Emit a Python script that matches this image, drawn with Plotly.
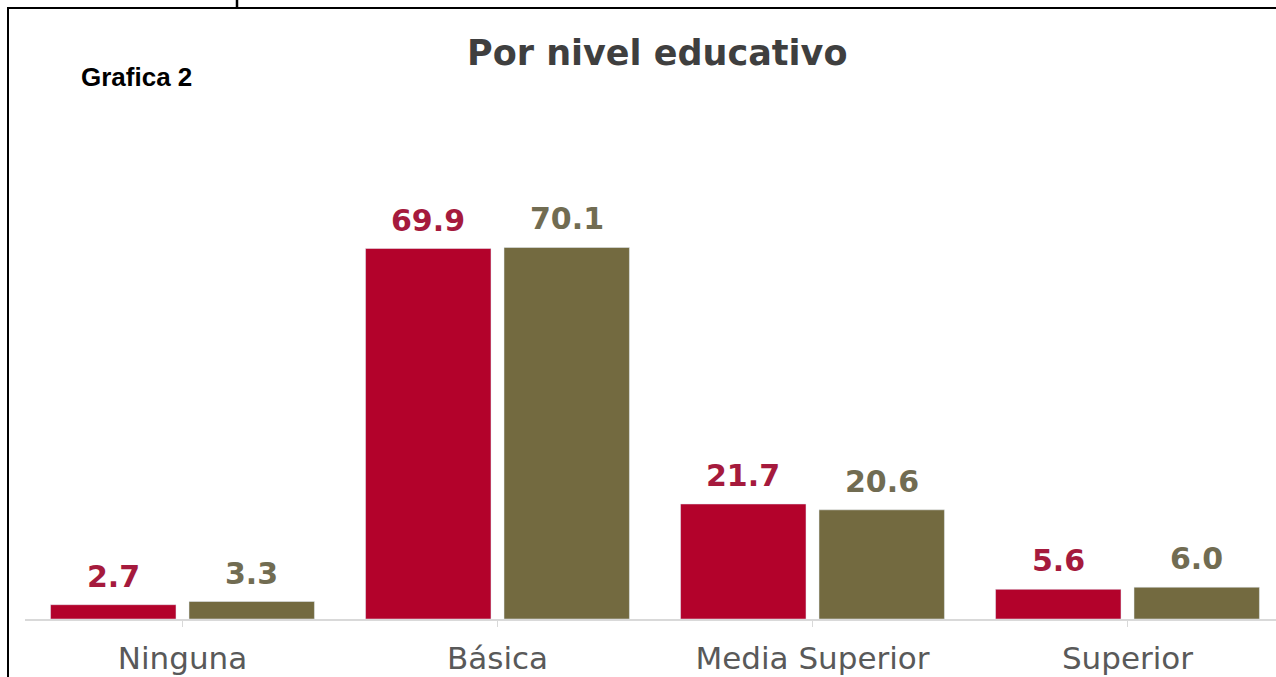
import plotly.graph_objects as go

categories = ["Ninguna", "Básica", "Media Superior", "Superior"]
serie_a = [2.7, 69.9, 21.7, 5.6]
serie_b = [3.3, 70.1, 20.6, 6.0]
labels_a = ["2.7", "69.9", "21.7", "5.6"]
labels_b = ["3.3", "70.1", "20.6", "6.0"]

RED = "#b3022b"
OLIVE = "#736a40"
RED_TXT = "#a51a3d"
OLIVE_TXT = "#716c52"

W, H = 1276, 677
ML, MR, MT, MB = 25, 0, 100, 58
PW = W - ML - MR
PH = H - MT - MB
BARGAP = 0.121
YMAX = PH / 5.3


def px_x(px):
    return (px - ML) / PW


def px_y(py):
    return (H - MB - py) / PH


fig = go.Figure()
fig.add_trace(go.Bar(x=list(range(4)), y=serie_a, marker_color=RED, name="A"))
fig.add_trace(go.Bar(x=list(range(4)), y=serie_b, marker_color=OLIVE, name="B"))

off = (1 - BARGAP) / 4
annotations = []
for i in range(4):
    annotations.append(dict(x=i - off, y=serie_a[i], xref="x", yref="y", text="<b>%s</b>" % labels_a[i],
                            showarrow=False, yanchor="bottom", yshift=9,
                            font=dict(family="DejaVu Sans", size=30, color=RED_TXT)))
    annotations.append(dict(x=i + off, y=serie_b[i], xref="x", yref="y", text="<b>%s</b>" % labels_b[i],
                            showarrow=False, yanchor="bottom", yshift=9,
                            font=dict(family="DejaVu Sans", size=30, color=OLIVE_TXT)))

annotations.append(dict(x=px_x(657), y=px_y(53), xref="paper", yref="paper", text="<b>Por nivel educativo</b>",
                        showarrow=False, xanchor="center", yanchor="middle",
                        font=dict(family="DejaVu Sans", size=35, color="#3f3f3f")))
annotations.append(dict(x=px_x(79), y=px_y(77), xref="paper", yref="paper", text="<b>Grafica 2</b>",
                        showarrow=False, xanchor="left", yanchor="middle",
                        font=dict(family="Liberation Sans", size=26, color="#000000")))

shapes = [
    dict(type="line", xref="paper", yref="paper", x0=px_x(8), x1=px_x(8), y0=px_y(8), y1=px_y(H + 5),
         line=dict(color="#000000", width=2)),
    dict(type="line", xref="paper", yref="paper", x0=px_x(7), x1=px_x(W + 5), y0=px_y(8), y1=px_y(8),
         line=dict(color="#000000", width=2)),
    dict(type="line", xref="paper", yref="paper", x0=px_x(237), x1=px_x(237), y0=px_y(0), y1=px_y(7),
         line=dict(color="#000000", width=2.5)),
]

fig.update_layout(
    width=W, height=H,
    margin=dict(l=ML, r=MR, t=MT, b=MB),
    paper_bgcolor="white", plot_bgcolor="white",
    barmode="group", bargap=BARGAP, bargroupgap=0.094,
    showlegend=False,
    annotations=annotations,
    shapes=shapes,
)
fig.update_xaxes(
    tickmode="array", tickvals=list(range(4)), ticktext=categories,
    range=[-0.5, (W - ML - MR) / 315 - 0.5],
    showline=True, linecolor="#d9d9d9", linewidth=1.5,
    ticks="outside", tickson="boundaries", ticklen=6, tickcolor="#d9d9d9",
    ticklabelstandoff=5,
    tickfont=dict(family="DejaVu Sans", size=31, color="#595959"),
    showgrid=False, zeroline=False,
)
fig.update_yaxes(range=[0, YMAX], visible=False, showgrid=False, zeroline=False)

fig.write_html("out.html")
